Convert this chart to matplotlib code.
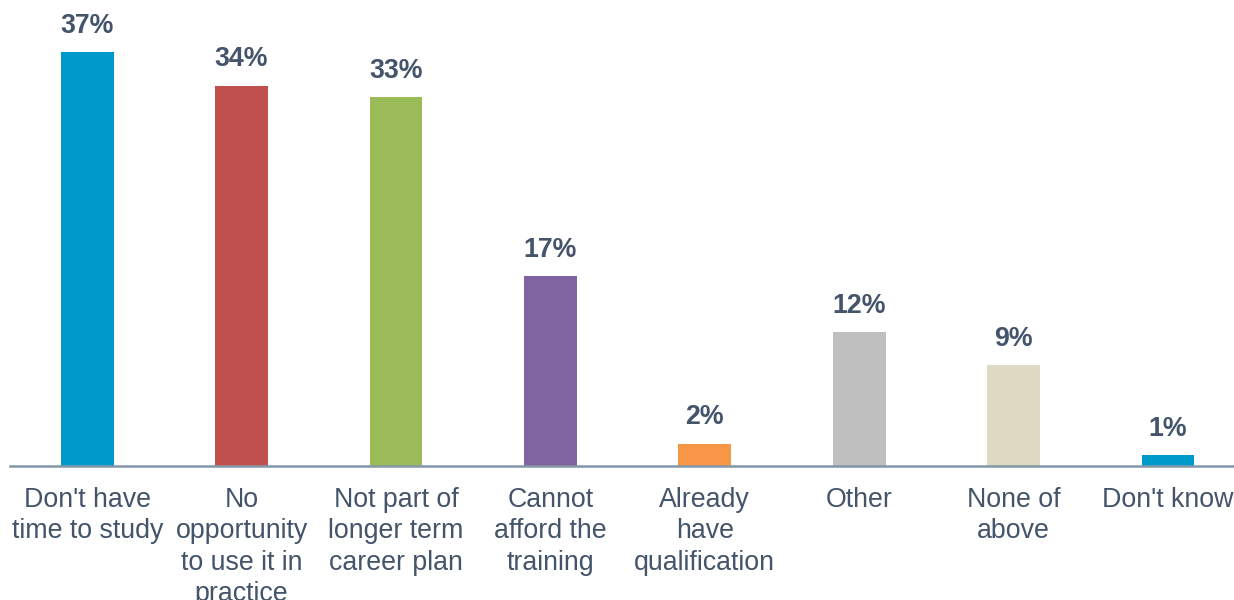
import matplotlib
matplotlib.use("Agg")
import matplotlib.pyplot as plt

categories = ["Don't have\ntime to study", "No\nopportunity\nto use it in\npractice",
              "Not part of\nlonger term\ncareer plan", "Cannot\nafford the\ntraining",
              "Already\nhave\nqualification", "Other", "None of\nabove", "Don't know"]
values = [37, 34, 33, 17, 2, 12, 9, 1]
colors = ["#0099CC", "#C0504D", "#9BBB59", "#8064A2", "#F79646", "#BFBFBF", "#DDD9C3", "#0099CC"]

plt.rcParams['font.family'] = ['Liberation Sans', 'DejaVu Sans']
text_color = "#44546A"

W, H = 1234, 600
fig = plt.figure(figsize=(W / 100, H / 100), dpi=100)
step = 154.4
left = 10
base = 466
ppu = 11.19
ymax = 40
ax = fig.add_axes([left / W, (H - base) / H, 8 * step / W, ymax * ppu / H])
x = list(range(len(values)))
ax.bar(x, values, width=0.343, color=colors)
ax.set_xlim(-0.5, len(values) - 0.5)
ax.set_ylim(0, ymax)
for s in ["top", "right", "left"]:
    ax.spines[s].set_visible(False)
ax.spines["bottom"].set_color("#8497A8")
ax.spines["bottom"].set_linewidth(1.8)
ax.set_yticks([])
ax.set_xticks(x)
ax.set_xticklabels(categories, fontsize=19.3, color=text_color, linespacing=1.27)
ax.tick_params(axis="x", length=0, pad=15)
for xi, v in zip(x, values):
    ax.annotate(f"{v}%", (xi, v), xytext=(0, 9.5), textcoords="offset points",
                ha="center", va="bottom", fontsize=19.3, fontweight="bold", color=text_color)
fig.savefig("out.png", dpi=100)
